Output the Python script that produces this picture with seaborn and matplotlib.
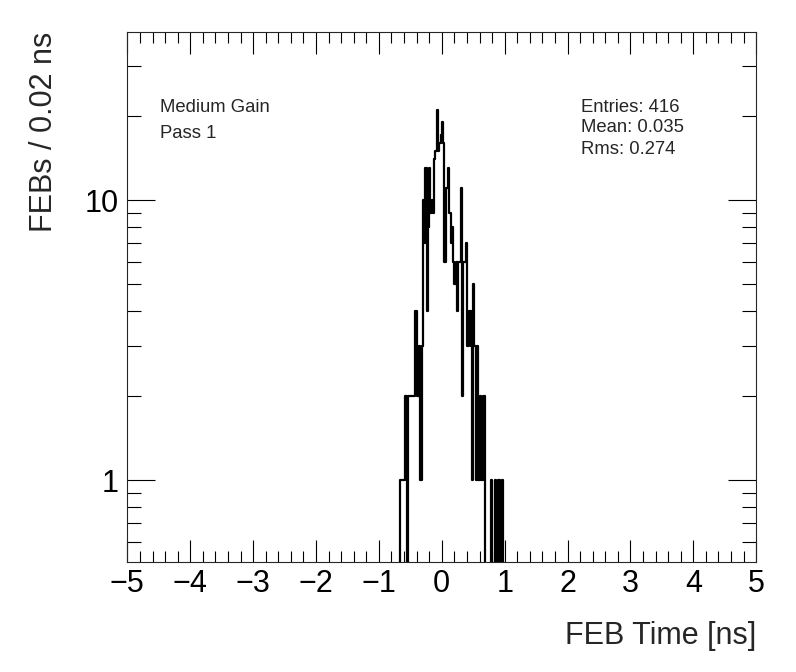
import numpy as np
import pandas as pd
import matplotlib
matplotlib.use("Agg")
import matplotlib.pyplot as plt
import matplotlib.ticker as mticker
import seaborn as sns

# FEB time histogram, 0.02 ns bins, counts
bin_low = np.round(np.arange(-0.70, 1.00, 0.02), 2)
counts = [0, 0, 1, 1, 1, 1, 2, 0, 2, 2,
          2, 2, 2, 2, 4, 2, 2, 3, 1, 3,
          10, 7, 13, 4, 8, 13, 9, 10, 9, 14,
          15, 21, 15, 16, 17, 19, 16, 6, 11, 11,
          13, 9, 7, 8, 6, 5, 6, 4, 6, 6,
          11, 2, 6, 6, 7, 3, 3, 4, 3, 1,
          5, 3, 1, 3, 1, 2, 1, 1, 2, 0,
          0, 0, 0, 0, 1, 0, 0, 1, 0, 0,
          1, 0, 0, 1, 0]
stats = ["Entries: 416", "Mean: 0.035", "Rms: 0.274"]
labels = ["Medium Gain", "Pass 1"]

df = pd.DataFrame({"time": bin_low + 0.01, "n": counts})

sns.set_style("ticks")
plt.rcParams["font.family"] = ["Liberation Sans", "DejaVu Sans"]
plt.rcParams["axes.linewidth"] = 0.8

fig = plt.figure(figsize=(7.96, 6.72), dpi=100)
ax = fig.add_axes([0.16, 0.1637, 0.79, 0.7887])

sns.histplot(data=df, x="time", weights="n", binwidth=0.02, binrange=(-5, 5),
             element="step", fill=False, color="black", linewidth=1.6, ax=ax)

ax.set_yscale("log")
ax.set_xlim(-5, 5)
ax.set_ylim(0.51, 39.8)

ax.xaxis.set_major_locator(mticker.MultipleLocator(1))
ax.xaxis.set_minor_locator(mticker.MultipleLocator(0.2))
ax.yaxis.set_major_locator(mticker.LogLocator(base=10, numticks=10))
ax.yaxis.set_minor_locator(mticker.LogLocator(base=10, subs=np.arange(2, 10), numticks=10))
ax.yaxis.set_major_formatter(mticker.FuncFormatter(lambda v, p: f"{v:g}"))
ax.yaxis.set_minor_formatter(mticker.NullFormatter())

ax.tick_params(which="both", direction="in", top=True, right=True, width=0.8, colors="black")
ax.tick_params(axis="x", which="major", length=16, labelsize=22, pad=5)
ax.tick_params(axis="x", which="minor", length=8)
ax.tick_params(axis="y", which="major", length=20, labelsize=22, pad=6)
ax.tick_params(axis="y", which="minor", length=10)

ax.set_xlabel("FEB Time [ns]", fontsize=22, loc="right")
ax.set_ylabel("FEBs / 0.02 ns", fontsize=22, loc="top")
ax.xaxis.set_label_coords(1.0, -0.112)
ax.yaxis.set_label_coords(-0.108, 1.0)

for i, s in enumerate(labels):
    fig.text(160 / 796, 1 - (107 + 26 * i) / 672, s, fontsize=13.3, va="center", ha="left")
for i, s in enumerate(stats):
    fig.text(581 / 796, 1 - (107 + 21 * i) / 672, s, fontsize=13.3, va="center", ha="left")

fig.savefig("out.png", dpi=100)
